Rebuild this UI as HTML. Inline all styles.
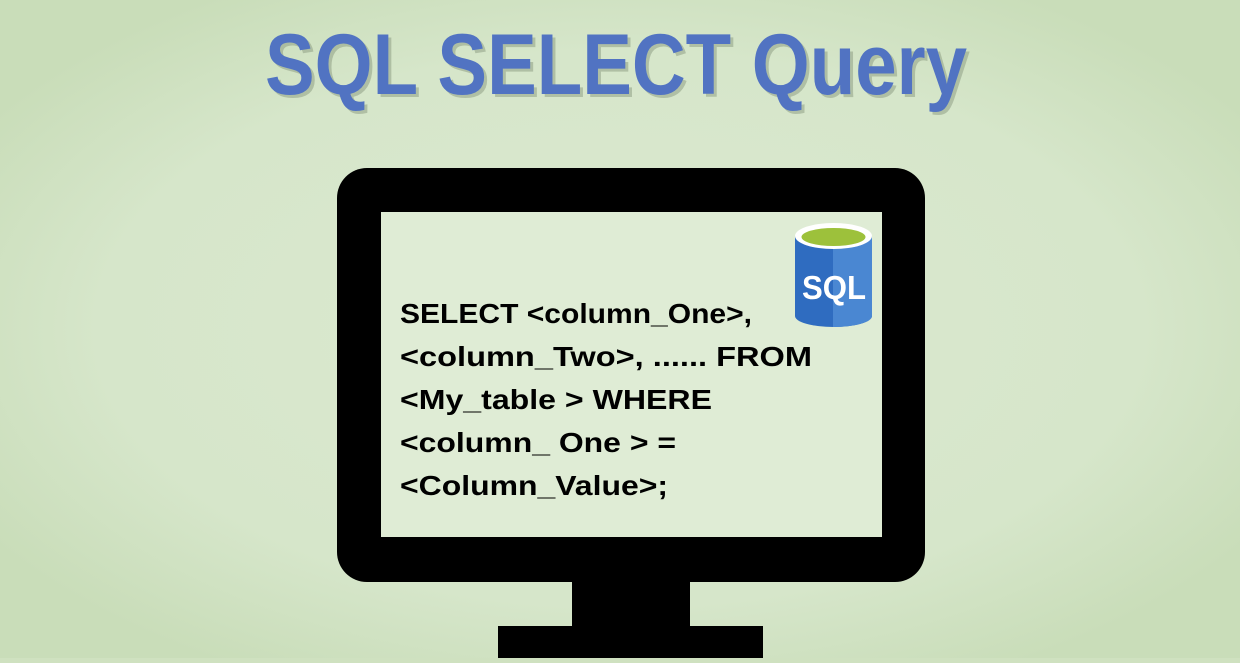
<!DOCTYPE html>
<html><head><style>
html,body{margin:0;padding:0;}
body{width:1240px;height:658px;overflow:hidden;background:#cfe1c0;}
</style></head><body>
<svg width="1240" height="658" viewBox="0 0 1240 658" xmlns="http://www.w3.org/2000/svg">
<defs>
<radialGradient id="bg" cx="50%" cy="50%" r="60%">
<stop offset="0" stop-color="#dbe9d0"/><stop offset="0.7" stop-color="#d6e6ca"/><stop offset="1" stop-color="#c9ddb9"/>
</radialGradient>
</defs>
<rect width="1240" height="658" fill="url(#bg)"/>
<text x="268" y="97" font-family="Liberation Sans, sans-serif" font-weight="bold" font-size="86" fill="#8a9a80" opacity="0.5" textLength="702" lengthAdjust="spacingAndGlyphs">SQL SELECT Query</text>
<text x="265" y="94" font-family="Liberation Sans, sans-serif" font-weight="bold" font-size="86" fill="#5173c2" textLength="702" lengthAdjust="spacingAndGlyphs">SQL SELECT Query</text>
<rect x="337" y="168" width="588" height="414" rx="30" fill="#000"/>
<rect x="381" y="212" width="501" height="325" fill="#dfecd5"/>
<rect x="572" y="580" width="118" height="50" fill="#000"/>
<rect x="498" y="626" width="265" height="32" fill="#000"/>
<g font-family="Liberation Sans, sans-serif" font-weight="bold" font-size="28" fill="#000">
<text x="400" y="323" textLength="352" lengthAdjust="spacingAndGlyphs">SELECT &lt;column_One&gt;,</text>
<text x="400" y="366" textLength="412" lengthAdjust="spacingAndGlyphs">&lt;column_Two&gt;, ...... FROM</text>
<text x="400" y="409" textLength="312" lengthAdjust="spacingAndGlyphs">&lt;My_table &gt; WHERE</text>
<text x="400" y="452" textLength="276" lengthAdjust="spacingAndGlyphs">&lt;column_ One &gt; =</text>
<text x="400" y="495" textLength="268" lengthAdjust="spacingAndGlyphs">&lt;Column_Value&gt;;</text>
</g>
<g>
<path d="M795 236 L795 316 A38.5 11 0 0 0 872 316 L872 236 Z" fill="#2f6cc0"/>
<path d="M833 247 L833 327 A38.5 11 0 0 0 872 316 L872 236 Z" fill="#4a87d2"/>
<ellipse cx="833.5" cy="236" rx="38.5" ry="13" fill="#ffffff"/>
<ellipse cx="833.5" cy="237" rx="32" ry="9" fill="#9dc13b"/>
<text x="802" y="299" font-family="Liberation Sans, sans-serif" font-weight="bold" font-size="33" fill="#fff" textLength="64" lengthAdjust="spacingAndGlyphs">SQL</text>
</g>
</svg>
</body></html>
